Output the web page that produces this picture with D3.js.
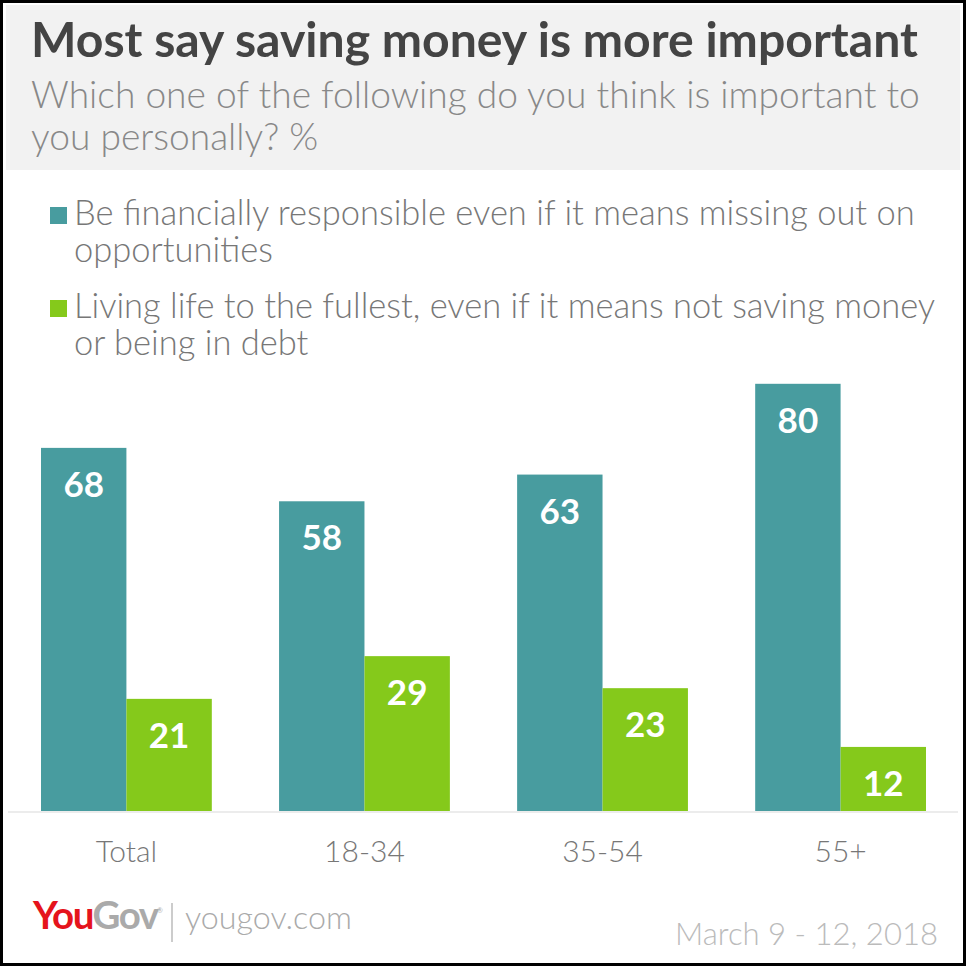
<!DOCTYPE html>
<html>
<head>
  <meta charset="utf-8">
  <script src="https://d3js.org/d3.v7.min.js"></script>
  <style>
    body { margin: 0; background: #fff; }
    svg text { font-family: Lato, "Open Sans", sans-serif; }
  </style>
</head>
<body>
<script>
  // data
  var groups = ["Total", "18-34", "35-54", "55+"];
  var seriesNames = [
    "Be financially responsible even if it means missing out on opportunities",
    "Living life to the fullest, even if it means not saving money or being in debt"
  ];
  var responsible = [68, 58, 63, 80];
  var fullest = [21, 29, 23, 12];
  var colors = ["#489c9f", "#85c91b"];

  var W = 966, H = 966;
  var svg = d3.select("body").append("svg")
      .attr("width", W).attr("height", H);

  // frame + header
  svg.append("rect").attr("x", 1.5).attr("y", 1.5)
     .attr("width", W - 3).attr("height", H - 3)
     .attr("fill", "#fff").attr("stroke", "#000").attr("stroke-width", 3);
  svg.append("rect").attr("x", 6).attr("y", 5)
     .attr("width", 954).attr("height", 165).attr("fill", "#f2f2f2");

  // shrink/grow a text node so it spans a given width
  function fit(sel, width) {
    var len = sel.node().getComputedTextLength();
    var fs = parseFloat(sel.attr("font-size"));
    sel.attr("font-size", (fs * width / len).toFixed(2));
    return sel;
  }

  fit(svg.append("text").attr("x", 31).attr("y", 57)
     .attr("font-size", 44).attr("font-weight", 700).attr("fill", "#444")
     .text("Most say saving money is more important"), 887);

  var sub1 = svg.append("text").attr("x", 31).attr("y", 108)
     .attr("font-size", 38).attr("font-weight", 300).attr("fill", "#888")
     .text("Which one of the following do you think is important to");
  fit(sub1, 889);
  svg.append("text").attr("x", 31).attr("y", 150)
     .attr("font-size", sub1.attr("font-size")).attr("font-weight", 300).attr("fill", "#888")
     .text("you personally? %");

  // legend
  var legendLines = [
    ["Be financially responsible even if it means missing out on", "opportunities"],
    ["Living life to the fullest, even if it means not saving money", "or being in debt"]
  ];
  var legendFs = 31;
  legendLines.forEach(function(lines, i) {
    var y0 = 225 + i * 93;
    svg.append("rect").attr("x", 50).attr("y", y0 - 18)
       .attr("width", 17).attr("height", 17).attr("fill", colors[i]);
    var t = svg.append("text").attr("x", 74).attr("y", y0)
       .attr("font-size", legendFs).attr("font-weight", 300).attr("fill", "#777")
       .text(lines[0]);
    if (i === 0) { fit(t, 841); legendFs = +t.attr("font-size"); }
    else t.attr("font-size", legendFs);
    svg.append("text").attr("x", 74).attr("y", y0 + 37)
       .attr("font-size", legendFs).attr("font-weight", 300).attr("fill", "#777")
       .text(lines[1]);
  });

  // scales
  var x0 = d3.scaleBand().domain(groups).range([41, 926])
      .paddingInner(0.2825).paddingOuter(0);
  var x1 = d3.scaleBand().domain([0, 1]).range([0, x0.bandwidth()]);
  var y = d3.scaleLinear().domain([0, 100]).range([811, 277]);

  svg.append("line").attr("x1", 8).attr("x2", 958)
     .attr("y1", 812).attr("y2", 812)
     .attr("stroke", "#ececec").attr("stroke-width", 2);

  var rows = groups.map(function(g, i) {
    return { group: g, values: [responsible[i], fullest[i]] };
  });

  var g = svg.selectAll("g.grp").data(rows).enter().append("g")
      .attr("class", "grp")
      .attr("transform", function(d) { return "translate(" + x0(d.group) + ",0)"; });

  var cell = g.selectAll("g.bar").data(function(d) {
      return d.values.map(function(v, k) { return { k: k, v: v }; });
    }).enter().append("g").attr("class", "bar");

  cell.append("rect")
      .attr("x", function(d) { return x1(d.k); })
      .attr("y", function(d) { return y(d.v); })
      .attr("width", x1.bandwidth())
      .attr("height", function(d) { return y(0) - y(d.v); })
      .attr("fill", function(d) { return colors[d.k]; });

  cell.append("text")
      .attr("x", function(d) { return x1(d.k) + x1.bandwidth() / 2; })
      .attr("y", function(d) { return y(d.v) + 49; })
      .attr("text-anchor", "middle")
      .attr("font-family", "'Open Sans', sans-serif")
      .attr("font-size", 35).attr("font-weight", 700).attr("fill", "#fff")
      .text(function(d) { return d.v; });

  // category labels
  svg.selectAll("text.cat").data(groups).enter().append("text")
      .attr("class", "cat")
      .attr("x", function(d) { return x0(d) + x0.bandwidth() / 2; })
      .attr("y", 862)
      .attr("text-anchor", "middle")
      .attr("font-size", 30).attr("font-weight", 300).attr("fill", "#777")
      .text(function(d) { return d; });

  // footer
  var logo = svg.append("text").attr("x", 33).attr("y", 929)
      .attr("font-family", "'Open Sans', sans-serif")
      .attr("font-size", 30).attr("font-weight", 700).attr("letter-spacing", -1.5);
  logo.append("tspan").attr("fill", "#e5141c").text("You");
  logo.append("tspan").attr("fill", "#aaa").text("Gov");
  fit(logo, 122);
  svg.append("text").attr("x", 157).attr("y", 913)
      .attr("font-size", 7).attr("fill", "#aaa").text("®");
  svg.append("line").attr("x1", 172).attr("x2", 172)
      .attr("y1", 903).attr("y2", 942)
      .attr("stroke", "#bbb").attr("stroke-width", 1.5);
  fit(svg.append("text").attr("x", 185).attr("y", 929)
      .attr("font-size", 30).attr("font-weight", 300).attr("fill", "#aaa")
      .text("yougov.com"), 167);
  fit(svg.append("text").attr("x", 938).attr("y", 945)
      .attr("text-anchor", "end")
      .attr("font-size", 30).attr("font-weight", 300).attr("fill", "#bbb")
      .text("March 9 - 12, 2018"), 263);
</script>
</body>
</html>
